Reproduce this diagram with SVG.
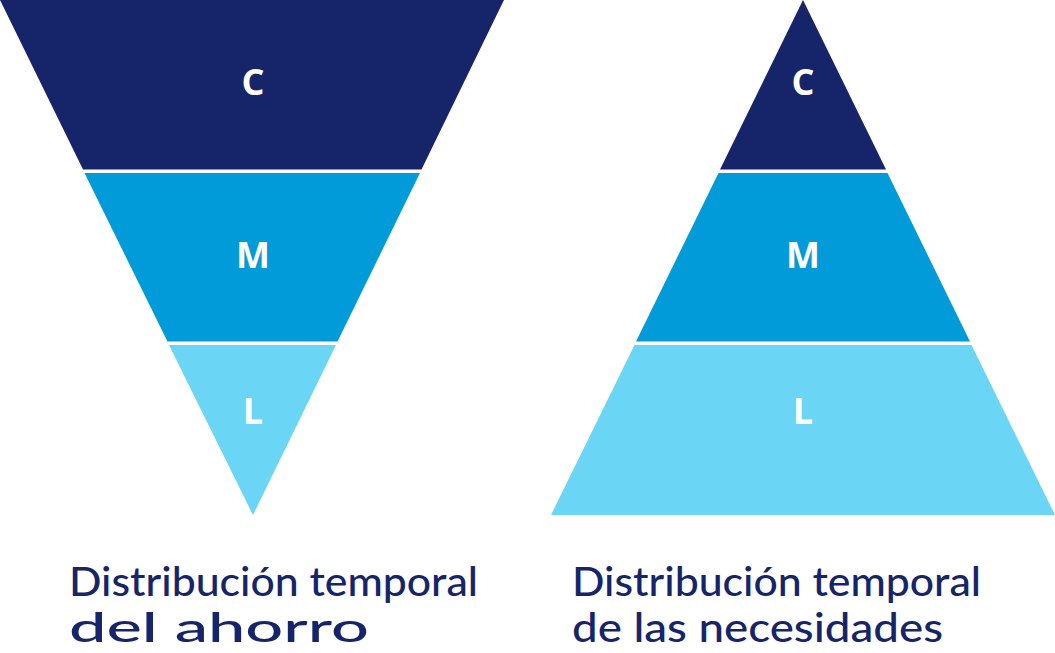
<svg xmlns="http://www.w3.org/2000/svg" width="1055" height="653" viewBox="0 0 1055 653">
<style>
.c{fill:#16256a}.m{fill:#009bd8}.l{fill:#6ad5f4}
.t{font-family:"Open Sans",sans-serif;font-weight:bold;font-size:36px;fill:#fff;text-anchor:middle}
.cap{font-family:"Lato","Open Sans",sans-serif;font-weight:500;font-size:41px;fill:#16256a}
</style>
<rect width="1055" height="653" fill="#fff"/>
<g id="left">
<polygon class="c" points="0,0 504,0 421.5,169.5 83,169.5"/>
<polygon class="m" points="84.5,173 420,173 337.5,341.5 167.5,341.5"/>
<polygon class="l" points="169,345 336,345 253,515"/>
<text class="t" x="253" y="95">C</text>
<text class="t" x="253" y="268">M</text>
<text class="t" x="253" y="424">L</text>
</g>
<g id="right">
<polygon class="c" points="803,0 886,169.5 720,169.5"/>
<polygon class="m" points="718.5,173 887.5,173 970,341.5 636,341.5"/>
<polygon class="l" points="634.5,345 971.5,345 1055,515 551,515"/>
<text class="t" x="803" y="95">C</text>
<text class="t" x="803" y="268">M</text>
<text class="t" x="803" y="424">L</text>
</g>
<g id="captions">
<text class="cap" x="69" y="596" textLength="409" lengthAdjust="spacingAndGlyphs">Distribución temporal</text>
<text class="cap" x="69" y="642" textLength="300" lengthAdjust="spacingAndGlyphs">del ahorro</text>
<text class="cap" x="572" y="596" textLength="409" lengthAdjust="spacingAndGlyphs">Distribución temporal</text>
<text class="cap" x="572" y="642" textLength="371" lengthAdjust="spacingAndGlyphs">de las necesidades</text>
</g>
</svg>
